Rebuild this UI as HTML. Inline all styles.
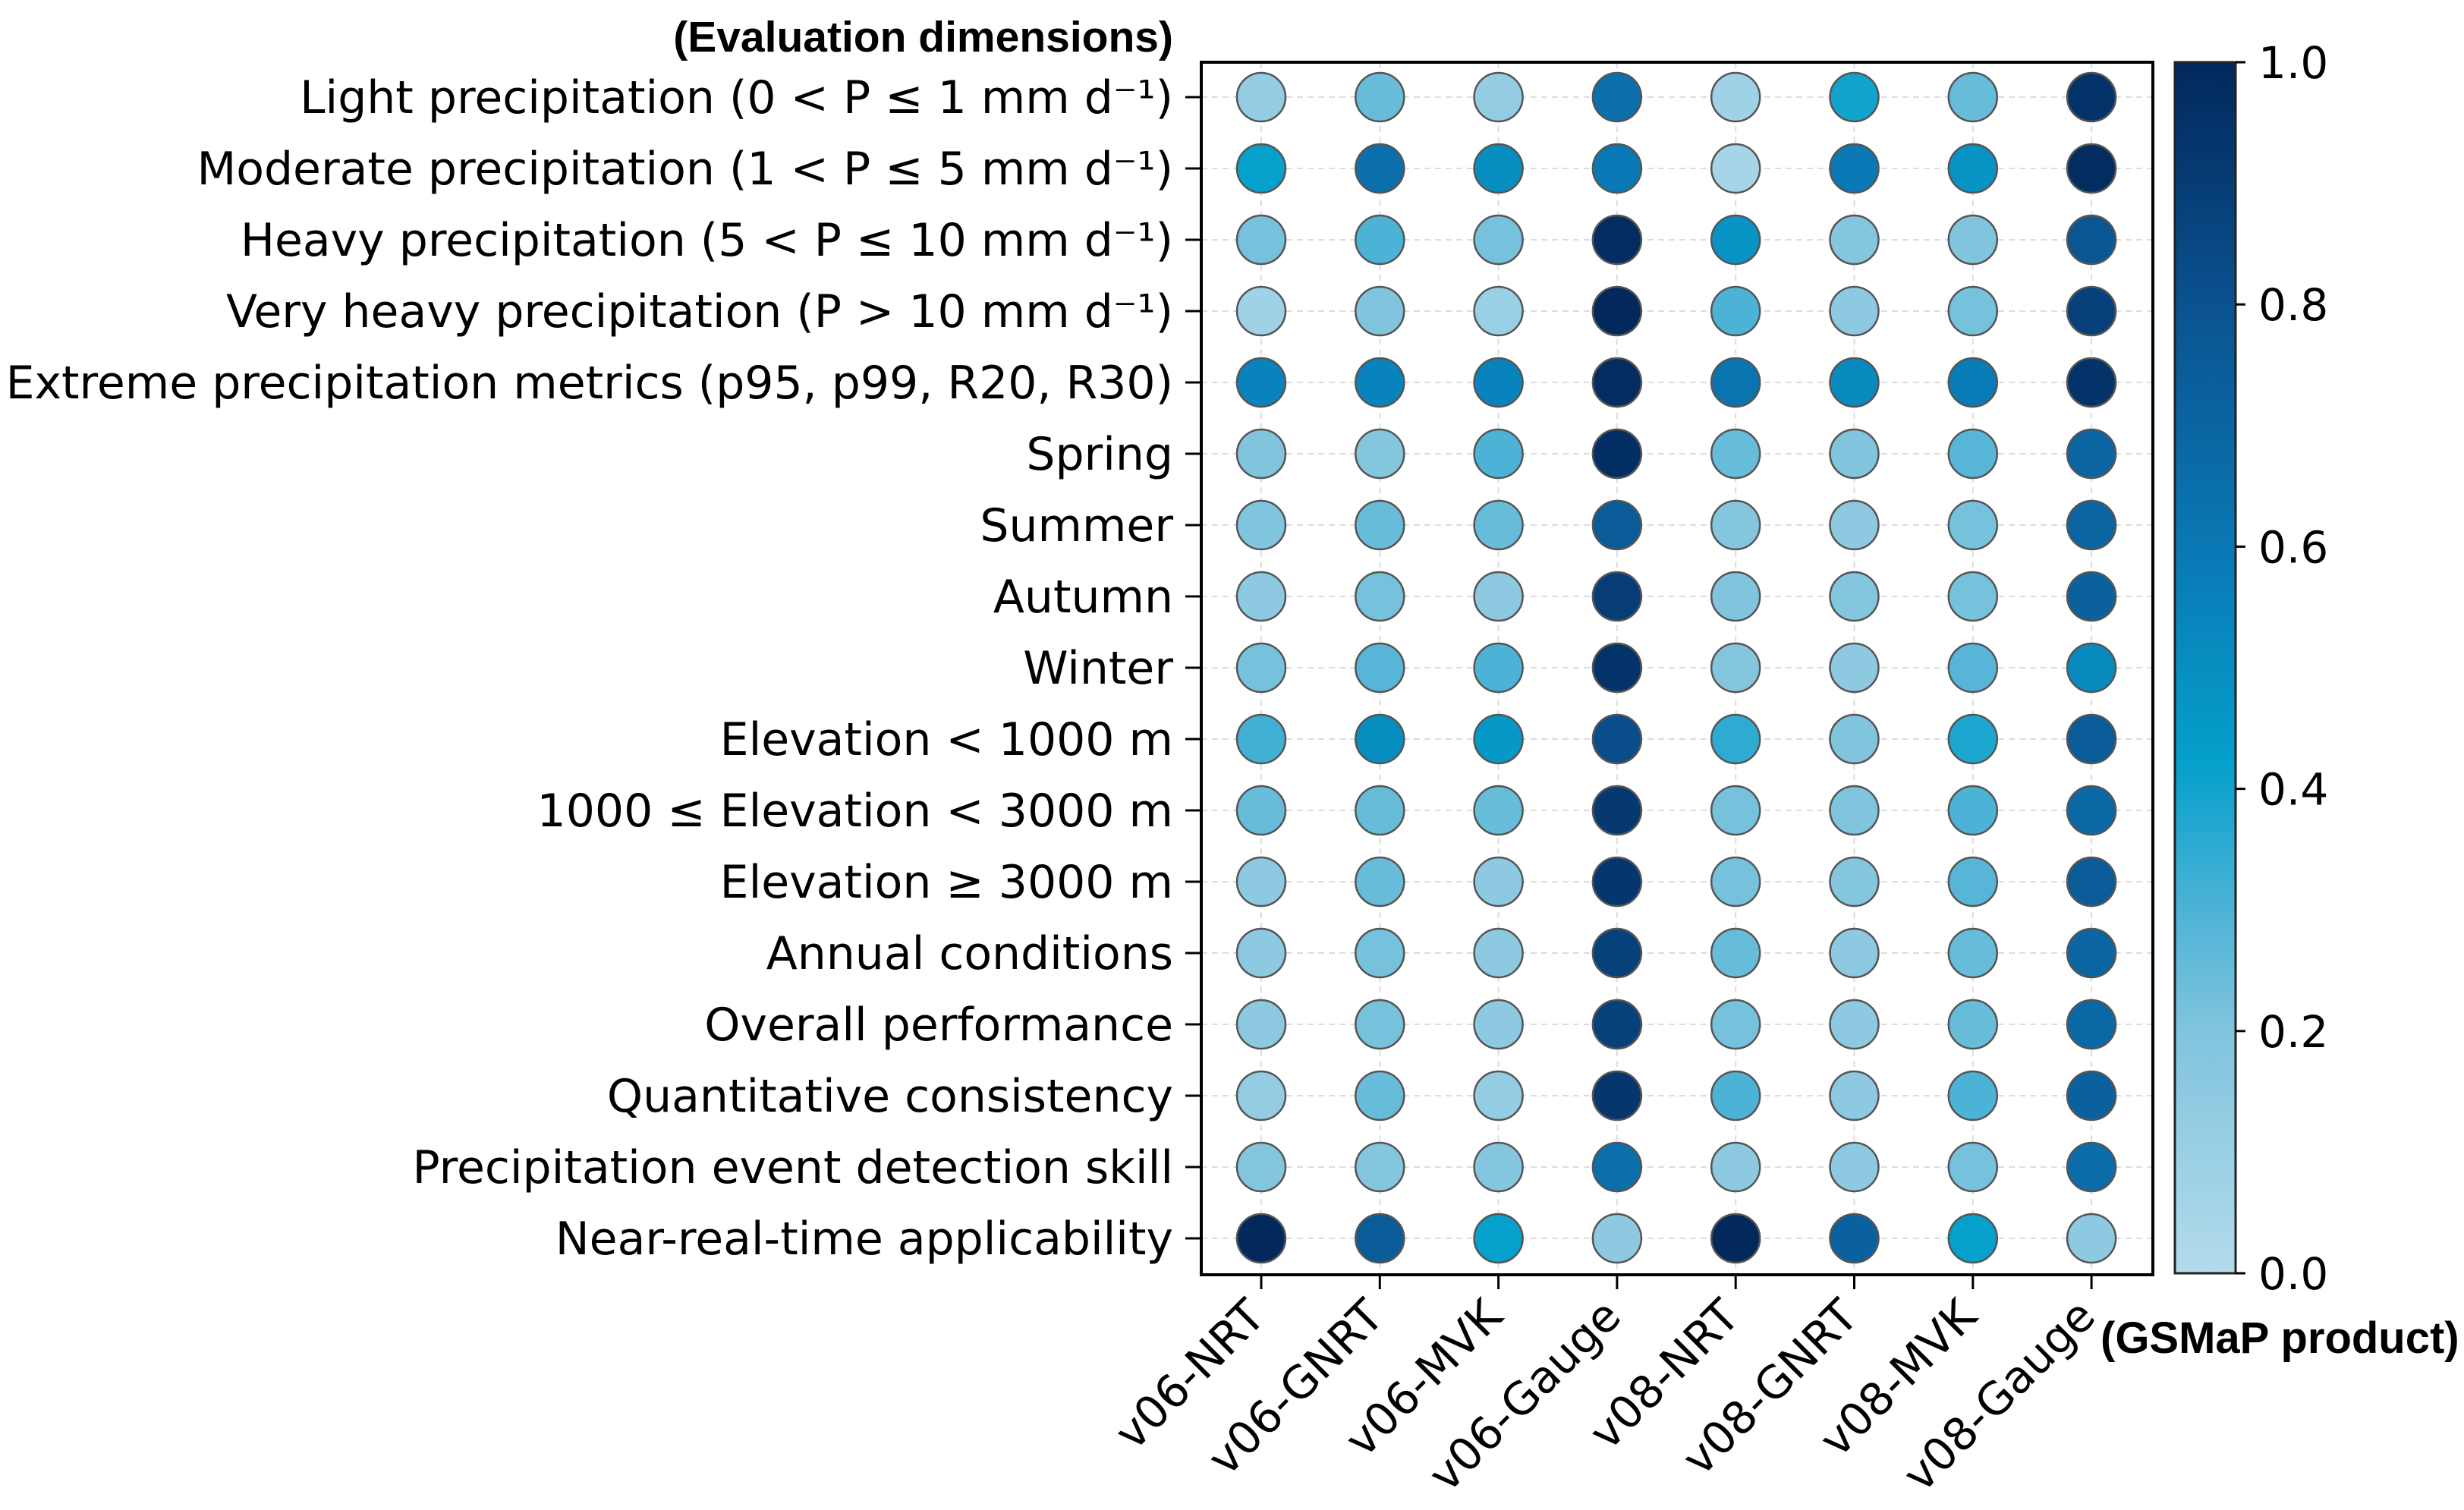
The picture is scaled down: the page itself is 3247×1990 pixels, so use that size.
<!DOCTYPE html>
<html><head><meta charset="utf-8"><style>
html,body{margin:0;padding:0;background:#fff;}
svg{display:block;}
text{font-family:"DejaVu Sans","Liberation Sans",sans-serif;fill:#000;}
.bold{font-family:"Liberation Sans","DejaVu Sans",sans-serif;font-weight:bold;}
</style></head><body>
<svg id="chart" width="3247" height="1990" viewBox="0 0 3247 1990" xmlns="http://www.w3.org/2000/svg">
<defs>
<linearGradient id="cbgrad" x1="0" y1="1" x2="0" y2="0">
<stop offset="0" stop-color="#b3dbeb"/><stop offset="0.2" stop-color="#80c4de"/><stop offset="0.3" stop-color="#4db3d6"/><stop offset="0.42" stop-color="#05a0cc"/><stop offset="0.6" stop-color="#0a78b4"/><stop offset="0.8" stop-color="#0a528f"/><stop offset="1" stop-color="#02285c"/>
</linearGradient>
</defs>
<g id="grid"></g>
<g id="marks"></g>
<g id="axes"></g>
<text class="bold" x="1546" y="68" text-anchor="end" font-size="57">(Evaluation dimensions)</text>
<text class="bold" x="2768" y="1783" font-size="58">(GSMaP product)</text>
<rect x="2866" y="82" width="80" height="1596" fill="url(#cbgrad)" stroke="#222" stroke-width="3"/>
<g id="cbticks"></g>
</svg>
<script>
const categories = ["Light precipitation (0 < P ≤ 1 mm d⁻¹)","Moderate precipitation (1 < P ≤ 5 mm d⁻¹)","Heavy precipitation (5 < P ≤ 10 mm d⁻¹)","Very heavy precipitation (P > 10 mm d⁻¹)","Extreme precipitation metrics (p95, p99, R20, R30)","Spring","Summer","Autumn","Winter","Elevation < 1000 m","1000 ≤ Elevation < 3000 m","Elevation ≥ 3000 m","Annual conditions","Overall performance","Quantitative consistency","Precipitation event detection skill","Near-real-time applicability"];
const products = ["v06-NRT","v06-GNRT","v06-MVK","v06-Gauge","v08-NRT","v08-GNRT","v08-MVK","v08-Gauge"];
const values = [
[0.12,0.25,0.12,0.65,0.08,0.40,0.25,0.95],
[0.42,0.65,0.50,0.60,0.05,0.60,0.48,0.98],
[0.22,0.30,0.22,0.98,0.48,0.18,0.20,0.78],
[0.08,0.20,0.10,1.00,0.30,0.15,0.22,0.88],
[0.55,0.55,0.55,0.98,0.62,0.52,0.58,0.95],
[0.20,0.18,0.30,0.97,0.25,0.20,0.28,0.70],
[0.20,0.25,0.25,0.75,0.18,0.15,0.22,0.70],
[0.15,0.22,0.15,0.90,0.20,0.18,0.22,0.72],
[0.22,0.28,0.30,0.95,0.18,0.15,0.28,0.52],
[0.32,0.50,0.45,0.82,0.35,0.20,0.38,0.75],
[0.25,0.25,0.25,0.92,0.22,0.20,0.30,0.68],
[0.15,0.25,0.15,0.93,0.22,0.18,0.28,0.75],
[0.15,0.22,0.15,0.88,0.25,0.15,0.25,0.70],
[0.15,0.22,0.15,0.88,0.22,0.15,0.25,0.68],
[0.12,0.25,0.12,0.93,0.30,0.15,0.30,0.72],
[0.18,0.18,0.18,0.65,0.15,0.15,0.22,0.66],
[1.00,0.75,0.42,0.15,1.00,0.72,0.42,0.15]];
const cbTicks = [0,0.2,0.4,0.6,0.8,1.0];
const cbTickLabels = ["0.0","0.2","0.4","0.6","0.8","1.0"];

const NS="http://www.w3.org/2000/svg";
const PL=1583,PR=2837,PT=82,PB=1680;
function xPos(i){return 1662+i*156.3;}
function yPos(j){return 128+j*94.0;}
function cbY(v){return 1678-v*1596;}
const stops=[[0,[179,219,235]],[0.2,[128,196,222]],[0.3,[77,179,214]],[0.42,[5,160,204]],[0.6,[10,120,180]],[0.8,[10,82,143]],[1,[2,40,92]]];
function cmap(v){v=Math.max(0,Math.min(1,v));for(let k=1;k<stops.length;k++){if(v<=stops[k][0]){const a=stops[k-1],b=stops[k],t=(v-a[0])/(b[0]-a[0]);const c=a[1].map((x,m)=>Math.round(x+(b[1][m]-x)*t));return `rgb(${c.join(',')})`;}}return 'rgb(2,40,92)';}
function mk(tag,attrs,parent){const e=document.createElementNS(NS,tag);for(const k in attrs)e.setAttribute(k,attrs[k]);parent.appendChild(e);return e;}
const grid=document.getElementById('grid'),marks=document.getElementById('marks'),axes=document.getElementById('axes'),cbt=document.getElementById('cbticks');
categories.forEach((c,j)=>{
 const l=mk('line',{x1:PL,x2:PR,y1:yPos(j),y2:yPos(j),stroke:'#dddddd','stroke-width':2,'stroke-dasharray':'8 6'},grid);
 
 
 const t=mk('line',{x1:1562,x2:PL,y1:yPos(j),y2:yPos(j),stroke:'#000','stroke-width':3},axes);
 
 
 const tx=mk('text',{x:1546,y:yPos(j)+21,'text-anchor':'end','font-size':60},axes);
 tx.textContent=c;
 
 
});
products.forEach((p,i)=>{
 const l=mk('line',{x1:xPos(i),x2:xPos(i),y1:PT,y2:PB,stroke:'#dddddd','stroke-width':2,'stroke-dasharray':'8 6'},grid);
 
 
 const t=mk('line',{x1:xPos(i),x2:xPos(i),y1:PB,y2:1699,stroke:'#000','stroke-width':3},axes);
 
 
 const ax=xPos(i)+8,ay=1738;
 const tx=mk('text',{x:ax,y:ay,'text-anchor':'end','font-size':59,transform:`rotate(-45 ${ax} ${ay})`},axes);
 tx.textContent=p;
 
 
});
values.forEach((row,j)=>row.forEach((v,i)=>{
 const c=mk('circle',{cx:xPos(i),cy:yPos(j),r:32,fill:cmap(v),stroke:'#555','stroke-width':2.5},marks);
 
 
}));
const frame=mk('rect',{x:PL,y:PT,width:PR-PL,height:PB-PT,fill:'none',stroke:'#000','stroke-width':4},axes);


cbTicks.forEach((v,k)=>{
 const t=mk('line',{x1:2946,x2:2959,y1:cbY(v),y2:cbY(v),stroke:'#000','stroke-width':3},cbt);
 
 
 const tx=mk('text',{x:2976,y:cbY(v)+21,'font-size':58},cbt);
 tx.textContent=cbTickLabels[k];
 
 
});
</script>
</body></html>
